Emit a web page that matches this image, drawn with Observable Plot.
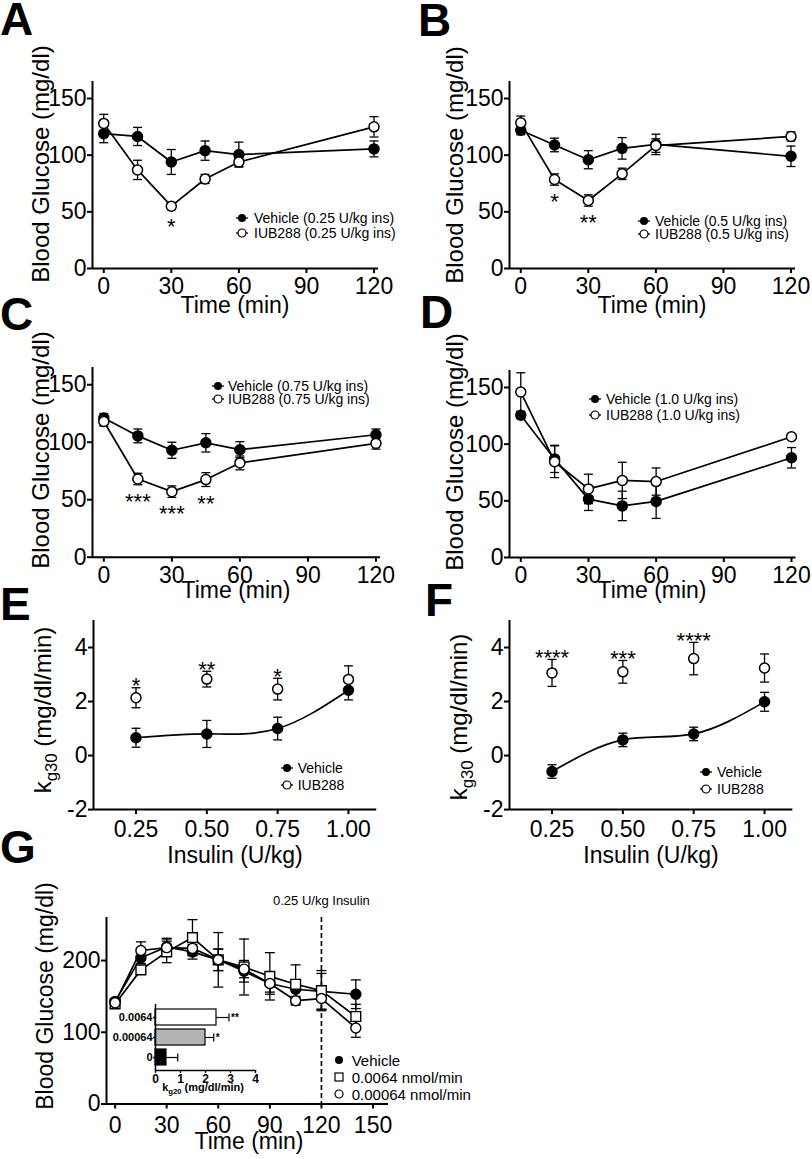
<!DOCTYPE html>
<html><head><meta charset="utf-8">
<script src="https://cdn.jsdelivr.net/npm/d3@7"></script>
<script src="https://cdn.jsdelivr.net/npm/@observablehq/plot@0.6"></script>
<style>
body{margin:0;background:#fff;}
#fig{position:relative;width:812px;height:1159px;overflow:hidden;font-family:"Liberation Sans",Arial,Helvetica,sans-serif;color:#000;background:#fff;}
.abs{position:absolute;white-space:nowrap;line-height:1;}
.letter{font-weight:bold;font-size:46px;line-height:0.75;}
.ytitle{transform:translate(-50%,-50%) rotate(-90deg);line-height:0.6;}
.xtitle{transform:translate(-50%,-50%);line-height:0.5;}
</style></head><body><div id="fig"></div>
<script>
// ---------- DATA ----------
// Panels A–D: insulin tolerance time course
const timeAD = [0, 15, 30, 45, 60, 120];
const timeDomainAD = [-5, 122];
const timeTicksAD = [0, 30, 60, 90, 120];
const glucoseDomainAD = [0, 165];
const glucoseTicksAD = [0, 50, 100, 150];

const vehicleA = [119, 116.5, 94, 104, 100.5, 105.5];
const vehicleA_err = [8, 8, 11, 8.5, 11, 7];
const iubA = [128, 87, 55, 79, 94, 125];
const iubA_err = [8, 8.5, 3, 4, 4, 9];
const starsA = [{t: 30, label: "*"}];
const legendA = ["Vehicle (0.25 U/kg ins)", "IUB288 (0.25 U/kg ins)"];

const vehicleB = [122, 109, 96, 106, 109.5, 99];
const vehicleB_err = [4, 6, 8, 9.5, 9, 9];
const iubB = [128.5, 78.5, 60, 83.5, 108.5, 116.5];
const iubB_err = [6, 5, 5, 5, 6, 4];
const starsB = [{t: 15, label: "*"}, {t: 30, label: "**"}];
const legendB = ["Vehicle (0.5 U/kg ins)", "IUB288 (0.5 U/kg ins)"];

const vehicleC = [121, 105.5, 93, 99.5, 93.5, 106.5];
const vehicleC_err = [4, 6, 7, 8, 7, 5];
const iubC = [118, 68, 57, 67.5, 82, 99];
const iubC_err = [4, 5, 5, 6, 6, 5];
const starsC = [{t: 15, label: "***"}, {t: 30, label: "***"}, {t: 45, label: "**"}];
const legendC = ["Vehicle (0.75 U/kg ins)", "IUB288 (0.75 U/kg ins)"];

const vehicleD = [125.5, 87, 51.5, 45.5, 49.5, 88];
const vehicleD_err = [3, 12, 10, 13, 15, 9];
const iubD = [146, 84.5, 60.5, 68, 67, 106.5];
const iubD_err = [17, 14, 13, 16, 12, 1];
const starsD = [];
const legendD = ["Vehicle (1.0 U/kg ins)", "IUB288 (1.0 U/kg ins)"];

// Panels E–F: kg30 vs insulin dose
const insulinDose = [0.25, 0.5, 0.75, 1.0];
const doseDomain = [0.1, 1.1];
const kgDomain = [-2, 5];
const kgTicks = [-2, 0, 2, 4];
const vehicleE = [0.66, 0.8, 1.0, 2.42];
const vehicleE_err = [0.35, 0.5, 0.42, 0.36];
const iubE = [2.14, 2.83, 2.46, 2.82];
const iubE_err = [0.37, 0.29, 0.4, 0.5];
const starsE = [{t: 0.25, label: "*"}, {t: 0.5, label: "**"}, {t: 0.75, label: "*"}];
const vehicleF = [-0.59, 0.58, 0.8, 1.99];
const vehicleF_err = [0.25, 0.25, 0.25, 0.35];
const iubF = [3.06, 3.1, 3.59, 3.24];
const iubF_err = [0.5, 0.42, 0.6, 0.52];
const starsF = [{t: 0.25, label: "****"}, {t: 0.5, label: "***"}, {t: 0.75, label: "****"}];
const legendEF = ["Vehicle", "IUB288"];

// Panel G: glucose time course with infusion
const timeG = [0, 15, 30, 45, 60, 75, 90, 105, 120, 140];
const timeDomainG = [-5, 159];
const timeTicksG = [0, 30, 60, 90, 120, 150];
const glucoseDomainG = [0, 260];
const glucoseTicksG = [0, 100, 200];
const insulinTimeG = [120];
const insulinLabelG = "0.25 U/kg Insulin";
const vehicleG = [143, 204, 219, 212, 201, 185, 168, 160, 157, 153];
const vehicleG_err = [4, 8, 12, 10, 15, 15, 15, 12, 25, 20];
const highG = [139.5, 187, 212, 232, 201, 191, 178, 167, 158, 122];
const highG_err = [4, 6, 15, 25, 38, 39, 33, 27, 28, 17];
const lowG = [141, 214, 218, 217, 201, 188, 168, 144, 147, 106];
const lowG_err = [4, 12, 12, 10, 15, 12, 12, 6, 15, 13];
const legendG = ["Vehicle", "0.0064 nmol/min", "0.00064 nmol/min"];

// Panel G inset: kg20 bars
const insetGroups = ["0.0064", "0.00064", "0"];
const insetValues = [2.44, 2.0, 0.44];
const insetErr = [0.5, 0.33, 0.45];
const insetFills = ["white", "#b4b4b4", "black"];
const insetStars = ["**", "*", ""];
const insetDomain = [0, 4];
const insetTicks = [0, 1, 2, 3, 4];

// ---------- LAYOUT (page pixel positions of each plot frame) ----------
const layout = {
  A: {x0: 92, x1: 378, y0: 81, y1: 268},
  B: {x0: 509, x1: 795, y0: 81, y1: 268},
  C: {x0: 92, x1: 380, y0: 367, y1: 556.7},
  D: {x0: 509, x1: 795.5, y0: 369.7, y1: 556.7},
  E: {x0: 92.7, x1: 376, y0: 620.2, y1: 809.3},
  F: {x0: 509.3, x1: 792.7, y0: 620.2, y1: 809.3},
  G: {x0: 106, x1: 388, y0: 917, y1: 1103.5},
  inset: {x0: 155, x1: 255, y0: 1004, y1: 1070}
};
const M = {l: 70, r: 14, t: 30, b: 44};
const TICK_FS = 23;
const FONT = "'Liberation Sans', Arial, Helvetica, sans-serif";
const fig = document.getElementById("fig");

function dims(f) {
  return {width: f.x1 - f.x0 + M.l + M.r, height: f.y1 - f.y0 + M.t + M.b,
    marginLeft: M.l, marginRight: M.r, marginTop: M.t, marginBottom: M.b};
}
function style(fs, weight) {
  return `font-family: ${FONT}; font-size: ${fs}px; font-weight: ${weight || "normal"}; color: black; background: transparent; overflow: visible;`;
}
function mount(svg, f) {
  svg.style.position = "absolute";
  svg.style.left = (f.x0 - M.l) + "px";
  svg.style.top = (f.y0 - M.t) + "px";
  svg.style.maxWidth = "none";
  fig.appendChild(svg);
}
const hcap = {draw(ctx, size) { const r = Math.sqrt(size / Math.PI); ctx.moveTo(-r, 0); ctx.lineTo(r, 0); }};
const vcap = {draw(ctx, size) { const r = Math.sqrt(size / Math.PI); ctx.moveTo(0, -r); ctx.lineTo(0, r); }};
function rows(xs, ys, es) { return xs.map((x, i) => ({x, y: ys[i], e: es[i]})); }
function errorMarks(R, capR) {
  return [
    Plot.ruleX(R, {x: "x", y1: d => d.y - d.e, y2: d => d.y + d.e, stroke: "black", strokeWidth: 1.3}),
    Plot.dot(R, {x: "x", y: d => d.y + d.e, symbol: hcap, r: capR, stroke: "black", fill: "none", strokeWidth: 1.3}),
    Plot.dot(R, {x: "x", y: d => d.y - d.e, symbol: hcap, r: capR, stroke: "black", fill: "none", strokeWidth: 1.3})
  ];
}

// ---------- PANELS A–D ----------
function timeCourse(key, veh, vehErr, iub, iubErr, stars) {
  const f = layout[key];
  const V = rows(timeAD, veh, vehErr), I = rows(timeAD, iub, iubErr);
  const S = stars.map(s => { const r = I.find(d => d.x === s.t); return {x: s.t, y: r.y - r.e, label: s.label}; });
  const svg = Plot.plot({
    ...dims(f), style: style(TICK_FS),
    x: {domain: timeDomainAD, label: null},
    y: {domain: glucoseDomainAD, label: null},
    marks: [
      Plot.axisX({ticks: timeTicksAD, tickSize: 5, tickPadding: 4, strokeWidth: 2, fontSize: TICK_FS, tickFormat: String, label: null}),
      Plot.axisY({ticks: glucoseTicksAD, tickSize: 5, tickPadding: 1, strokeWidth: 2, fontSize: TICK_FS, tickFormat: String, label: null}),
      Plot.ruleX([timeDomainAD[0]], {strokeWidth: 2}),
      Plot.ruleY([glucoseDomainAD[0]], {strokeWidth: 2}),
      Plot.line(V, {x: "x", y: "y", strokeWidth: 1.7}),
      Plot.line(I, {x: "x", y: "y", strokeWidth: 1.7}),
      ...errorMarks(V, 4.5), ...errorMarks(I, 4.5),
      Plot.dot(V, {x: "x", y: "y", r: 5, fill: "black", stroke: "black"}),
      Plot.dot(I, {x: "x", y: "y", r: 5, fill: "white", stroke: "black", strokeWidth: 1.5}),
      Plot.text(S, {x: "x", y: "y", text: "label", dy: 17, fontSize: 22})
    ]
  });
  mount(svg, f);
}
timeCourse("A", vehicleA, vehicleA_err, iubA, iubA_err, starsA);
timeCourse("B", vehicleB, vehicleB_err, iubB, iubB_err, starsB);
timeCourse("C", vehicleC, vehicleC_err, iubC, iubC_err, starsC);
timeCourse("D", vehicleD, vehicleD_err, iubD, iubD_err, starsD);

// ---------- PANELS E–F ----------
function doseResponse(key, veh, vehErr, iub, iubErr, stars) {
  const f = layout[key];
  const V = rows(insulinDose, veh, vehErr), I = rows(insulinDose, iub, iubErr);
  const S = stars.map(s => { const r = I.find(d => d.x === s.t); return {x: s.t, y: r.y + r.e, label: s.label}; });
  const svg = Plot.plot({
    ...dims(f), style: style(TICK_FS),
    x: {domain: doseDomain, label: null},
    y: {domain: kgDomain, label: null},
    marks: [
      Plot.axisX({ticks: insulinDose, tickSize: 5, tickPadding: 6, strokeWidth: 2, fontSize: TICK_FS, tickFormat: d3.format(".2f"), label: null}),
      Plot.axisY({ticks: kgTicks, tickSize: 5, tickPadding: 1, strokeWidth: 2, fontSize: TICK_FS, tickFormat: String, label: null}),
      Plot.ruleX([doseDomain[0]], {strokeWidth: 2}),
      Plot.ruleY([kgDomain[0]], {strokeWidth: 2}),
      Plot.line(V, {x: "x", y: "y", curve: "natural", strokeWidth: 1.7}),
      ...errorMarks(V, 4.5), ...errorMarks(I, 4.5),
      Plot.dot(V, {x: "x", y: "y", r: 5, fill: "black", stroke: "black"}),
      Plot.dot(I, {x: "x", y: "y", r: 5, fill: "white", stroke: "black", strokeWidth: 1.5}),
      Plot.text(S, {x: "x", y: "y", text: "label", dy: -1.5, fontSize: 22})
    ]
  });
  mount(svg, f);
}
doseResponse("E", vehicleE, vehicleE_err, iubE, iubE_err, starsE);
doseResponse("F", vehicleF, vehicleF_err, iubF, iubF_err, starsF);

// ---------- PANEL G ----------
(function () {
  const f = layout.G;
  const V = rows(timeG, vehicleG, vehicleG_err), H = rows(timeG, highG, highG_err), L = rows(timeG, lowG, lowG_err);
  const svg = Plot.plot({
    ...dims(f), style: style(TICK_FS),
    x: {domain: timeDomainG, label: null},
    y: {domain: glucoseDomainG, label: null},
    marks: [
      Plot.axisX({ticks: timeTicksG, tickSize: 5, tickPadding: 8, strokeWidth: 2, fontSize: TICK_FS, tickFormat: String, label: null}),
      Plot.axisY({ticks: glucoseTicksG, tickSize: 5, tickPadding: 1, strokeWidth: 2, fontSize: TICK_FS, tickFormat: String, label: null}),
      Plot.ruleX([timeDomainG[0]], {strokeWidth: 2}),
      Plot.ruleY([glucoseDomainG[0]], {strokeWidth: 2}),
      Plot.ruleX(insulinTimeG, {strokeWidth: 1.6, strokeDasharray: "5,3"}),
      Plot.text(insulinTimeG, {x: d => d, frameAnchor: "top", dy: -22, text: () => insulinLabelG, fontSize: 13}),
      Plot.line(V, {x: "x", y: "y", strokeWidth: 1.7}),
      Plot.line(H, {x: "x", y: "y", strokeWidth: 1.7}),
      Plot.line(L, {x: "x", y: "y", strokeWidth: 1.7}),
      ...errorMarks(V, 5), ...errorMarks(H, 5), ...errorMarks(L, 5),
      Plot.dot(V, {x: "x", y: "y", r: 5, fill: "black", stroke: "black"}),
      Plot.dot(H, {x: "x", y: "y", r: 5.5, symbol: "square", fill: "white", stroke: "black", strokeWidth: 1.4}),
      Plot.dot(L, {x: "x", y: "y", r: 5, fill: "white", stroke: "black", strokeWidth: 1.4})
    ]
  });
  mount(svg, f);
})();

// ---------- PANEL G INSET ----------
(function () {
  const f = layout.inset;
  const R = insetGroups.map((g, i) => ({g, v: insetValues[i], e: insetErr[i], fill: insetFills[i], star: insetStars[i]}));
  const svg = Plot.plot({
    ...dims(f), style: style(11, "bold"),
    x: {domain: insetDomain, label: null},
    y: {domain: insetGroups, padding: 0.18, label: null},
    color: {type: "identity"},
    marks: [
      Plot.ruleY(R, {y: "g", x1: "v", x2: d => d.v + d.e, strokeWidth: 1.2}),
      Plot.dot(R, {x: d => d.v + d.e, y: "g", symbol: vcap, r: 4, stroke: "black", fill: "none", strokeWidth: 1.2}),
      Plot.barX(R, {x: "v", y: "g", fill: "fill", stroke: "black", strokeWidth: 1.2}),
      Plot.text(R.filter(d => d.star), {x: d => d.v + d.e, y: "g", text: "star", textAnchor: "start", dx: 2, fontSize: 10, fontWeight: "bold"}),
      Plot.axisX({ticks: insetTicks, tickSize: 3, tickPadding: 1, strokeWidth: 1.3, tickFormat: String, fontSize: 12, label: null}),
      Plot.axisY({tickSize: 2, tickPadding: 1, strokeWidth: 1.3, fontSize: 11, label: null}),
      Plot.ruleX([insetDomain[0]], {strokeWidth: 1.5}),
      Plot.frame({anchor: "bottom", strokeWidth: 1.5})
    ]
  });
  mount(svg, f);
})();

// ---------- TEXT OVERLAYS ----------
function put(html, x, y, cls, css) {
  const d = document.createElement("div");
  d.className = "abs " + (cls || "");
  d.style.left = x + "px"; d.style.top = y + "px";
  if (css) Object.assign(d.style, css);
  d.innerHTML = html;
  fig.appendChild(d);
  return d;
}
// panel letters (line-height 0.75 puts the box top at the cap top)
const panelLetters = [["A", 0, 2], ["B", 418, 3], ["C", 0, 297], ["D", 420, 295], ["E", 0, 587], ["F", 425, 583], ["G", 0, 830]];
panelLetters.forEach(([t, x, y]) => put(t, x, y, "letter"));

// axis titles
const bg = "Blood Glucose (mg/dl)";
const kg30 = 'k<span style="font-size:0.7em;position:relative;top:0.35em">g30</span> (mg/dl/min)';
put(bg, 40.5, 164, "ytitle", {fontSize: "24px"});
put(bg, 455, 165, "ytitle", {fontSize: "24px"});
put(bg, 40.5, 450, "ytitle", {fontSize: "24px"});
put(bg, 455, 452, "ytitle", {fontSize: "24px"});
put(kg30, 44, 710, "ytitle", {fontSize: "24px"});
put(kg30, 460, 717, "ytitle", {fontSize: "24px"});
put(bg, 45.5, 995.5, "ytitle", {fontSize: "23px"});
put("Time (min)", 235, 305.5, "xtitle", {fontSize: "23px"});
put("Time (min)", 652, 305.5, "xtitle", {fontSize: "23px"});
put("Time (min)", 236, 590.5, "xtitle", {fontSize: "23px"});
put("Time (min)", 652, 590.5, "xtitle", {fontSize: "23px"});
put("Insulin (U/kg)", 235, 856, "xtitle", {fontSize: "23px"});
put("Insulin (U/kg)", 651, 856, "xtitle", {fontSize: "23px"});
put("Time (min)", 249, 1142, "xtitle", {fontSize: "23px"});
put('k<span style="font-size:0.7em;position:relative;top:0.35em">g20</span> (mg/dl/min)', 203, 1088, "xtitle", {fontSize: "11px", fontWeight: "bold"});

// legends
function markerSVG(type, withLine) {
  let inner = "";
  if (withLine) inner += '<line x1="2" x2="14" y1="8" y2="8" stroke="black" stroke-width="1.3"/>';
  if (type === "filled") inner += '<circle cx="8" cy="8" r="4" fill="black"/>';
  if (type === "open") inner += '<circle cx="8" cy="8" r="4" fill="white" stroke="black" stroke-width="1.2"/>';
  if (type === "square") inner += '<rect x="4" y="4" width="8" height="8" fill="white" stroke="black" stroke-width="1.2"/>';
  return '<svg width="16" height="16" style="flex:none;display:block">' + inner + "</svg>";
}
function legend(labels, types, cx, cy, rowH, fs, gap, withLine) {
  labels.forEach((lab, i) => {
    put(markerSVG(types[i], withLine) + '<span style="margin-left:' + gap + 'px">' + lab + "</span>",
      cx - 8, cy + i * rowH - 8, "", {display: "flex", alignItems: "center", height: "16px", fontSize: fs + "px"});
  });
}
const twoTypes = ["filled", "open"];
legend(legendA, twoTypes, 242, 218.3, 15, 14, 4, true);
legend(legendB, twoTypes, 644, 220.7, 13.7, 14, 3, true);
legend(legendC, twoTypes, 218, 385.7, 13.3, 14, 2, true);
legend(legendD, twoTypes, 595, 399.3, 16, 14, 3, true);
legend(legendEF, twoTypes, 286.7, 767.7, 17.3, 14, 3, true);
legend(legendEF, twoTypes, 706, 771.7, 17.3, 14, 3, true);
legend(legendG, ["filled", "square", "open"], 339, 1060, 17.2, 15, 4.7, false);
</script></body></html>
